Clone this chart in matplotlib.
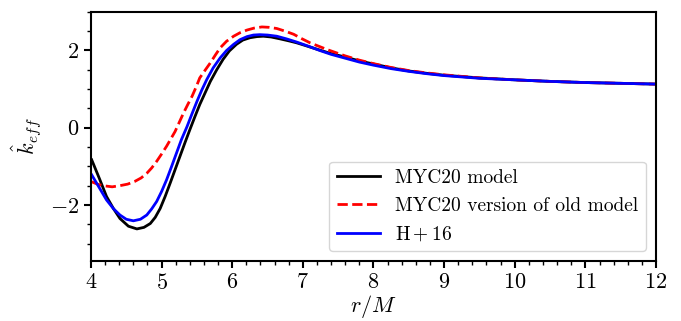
import numpy as np
import matplotlib
matplotlib.use("Agg")
import matplotlib.pyplot as plt
from matplotlib.ticker import MultipleLocator

plt.rcParams['font.family'] = 'serif'
plt.rcParams['font.serif'] = ['cmr10']
plt.rcParams['mathtext.fontset'] = 'cm'
plt.rcParams['axes.formatter.use_mathtext'] = True
plt.rcParams['font.size'] = 16

# values
r_black = [4.01, 4.12, 4.22, 4.32, 4.41, 4.53, 4.65, 4.75, 4.84, 4.91, 4.98, 5.05, 5.12, 5.19,
           5.26, 5.33, 5.40, 5.47, 5.54, 5.62, 5.69, 5.78, 5.87, 5.96, 6.06, 6.15, 6.25, 6.35,
           6.44, 6.55, 6.68, 6.8, 6.91, 7.05, 7.24, 7.4, 7.6, 7.8, 8.0, 8.25, 8.5, 8.75, 9.0,
           9.5, 10.0, 10.5, 11.0, 11.5, 12.0]
k_black = [-0.83, -1.32, -1.78, -2.1, -2.35, -2.55, -2.62, -2.58, -2.48, -2.32, -2.09, -1.78,
           -1.44, -1.09, -0.74, -0.39, -0.05, 0.28, 0.60, 0.92, 1.20, 1.50, 1.77, 1.99, 2.16,
           2.27, 2.33, 2.36, 2.37, 2.35, 2.30, 2.25, 2.20, 2.12, 2.01, 1.92, 1.83, 1.73, 1.65,
           1.55, 1.47, 1.41, 1.36, 1.29, 1.24, 1.20, 1.17, 1.15, 1.13]

r_red = [4.01, 4.09, 4.17, 4.3, 4.41, 4.52, 4.62, 4.71, 4.79, 4.86, 4.93, 5.0, 5.07, 5.13,
         5.19, 5.25, 5.31, 5.37, 5.43, 5.49, 5.54, 5.62, 5.69, 5.76, 5.83, 5.92, 6.02, 6.11,
         6.21, 6.31, 6.42, 6.52, 6.63, 6.75, 6.87, 6.98, 7.10, 7.35, 7.6, 7.8, 8.0, 8.25, 8.5,
         8.75, 9.0, 9.5, 10.0, 10.5, 11.0, 11.5, 12.0]
k_red = [-1.40, -1.46, -1.50, -1.53, -1.50, -1.46, -1.39, -1.30, -1.18, -1.04, -0.87, -0.68,
         -0.48, -0.29, -0.10, 0.14, 0.38, 0.60, 0.81, 1.06, 1.29, 1.50, 1.68, 1.88, 2.07, 2.24,
         2.37, 2.46, 2.53, 2.58, 2.61, 2.60, 2.57, 2.50, 2.42, 2.31, 2.20, 2.02, 1.86, 1.75,
         1.66, 1.56, 1.48, 1.42, 1.37, 1.29, 1.24, 1.20, 1.17, 1.15, 1.13]

r_blue = [4.01, 4.12, 4.22, 4.32, 4.41, 4.5, 4.60, 4.7, 4.79, 4.86, 4.93, 5.0, 5.07, 5.14,
          5.21, 5.28, 5.36, 5.43, 5.50, 5.57, 5.64, 5.73, 5.83, 5.92, 6.02, 6.11, 6.21, 6.30,
          6.39, 6.5, 6.63, 6.77, 6.91, 7.05, 7.24, 7.4, 7.6, 7.8, 8.0, 8.25, 8.5, 8.75, 9.0,
          9.5, 10.0, 10.5, 11.0, 11.5, 12.0]
k_blue = [-1.22, -1.56, -1.87, -2.1, -2.26, -2.37, -2.41, -2.37, -2.26, -2.1, -1.91, -1.65,
          -1.35, -1.01, -0.66, -0.31, 0.03, 0.36, 0.68, 0.98, 1.25, 1.55, 1.81, 2.0, 2.16, 2.28,
          2.36, 2.40, 2.41, 2.40, 2.37, 2.30, 2.22, 2.13, 2.00, 1.90, 1.80, 1.70, 1.62, 1.53,
          1.46, 1.40, 1.35, 1.28, 1.24, 1.20, 1.17, 1.15, 1.13]

fig = plt.figure(figsize=(6.81, 3.21), dpi=100)
ax = fig.add_axes([0.1336, 0.187, 0.8297, 0.776])

ax.plot(r_black, k_black, color='black', lw=2, label='MYC20 model')
ax.plot(r_red, k_red, color='red', lw=2, ls='--', label='MYC20 version of old model')
ax.plot(r_blue, k_blue, color='blue', lw=2, label=r'$\rm H+16$')

ax.set_xlim(4, 12)
ax.set_ylim(-3.45, 3.0)
ax.xaxis.set_major_locator(MultipleLocator(1))
ax.xaxis.set_minor_locator(MultipleLocator(0.2))
ax.yaxis.set_major_locator(MultipleLocator(2))
ax.yaxis.set_minor_locator(MultipleLocator(0.5))
for s in ax.spines.values():
    s.set_linewidth(1.5)
ax.tick_params(which='major', width=1.5, length=5)
ax.tick_params(which='minor', width=1.0, length=3)

ax.set_xlabel(r'$r/M$', labelpad=0)
ax.set_ylabel(r'$\hat{k}_{eff}$')
ax.legend(loc='lower right', fontsize=14, handlelength=2.2)

fig.savefig('out.png', dpi=100)
